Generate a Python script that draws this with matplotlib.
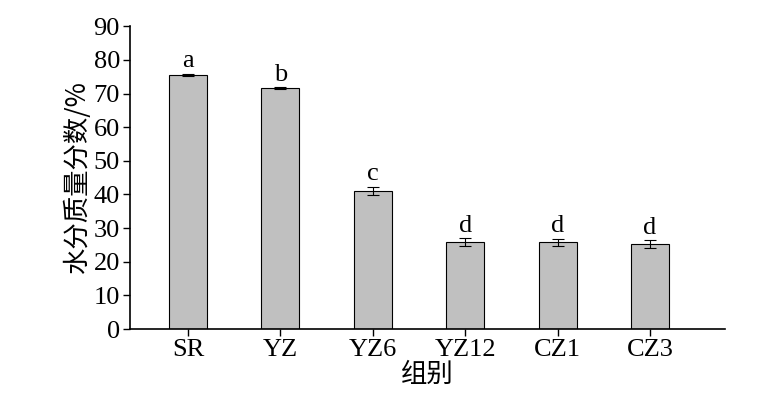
import matplotlib
matplotlib.use('Agg')
import matplotlib.pyplot as plt
import numpy as np

plt.rcParams['font.family'] = ['Liberation Serif', 'Noto Sans CJK SC']

groups = ['SR', 'YZ', 'YZ6', 'YZ12', 'CZ1', 'CZ3']
moisture = [75.5, 71.5, 41.0, 25.8, 25.8, 25.2]
errors = [0.3, 0.3, 1.3, 1.2, 1.0, 1.2]
letters = ['a', 'b', 'c', 'd', 'd', 'd']

fig = plt.figure(figsize=(7.72, 4.16), dpi=100)
ax = fig.add_axes([0.168, 0.209, 0.771, 0.728])

x = np.arange(len(groups))
ax.bar(x, moisture, width=0.41, color='#c0c0c0', edgecolor='black', linewidth=0.8,
       yerr=errors, capsize=4, error_kw=dict(elinewidth=0.8, capthick=0.8))
for xi, v, e, t in zip(x, moisture, errors, letters):
    ax.text(xi, v + e + 0.5, t, ha='center', va='bottom', fontsize=19)

ax.set_xlim(-0.63, 5.81)
ax.set_ylim(0, 90)
ax.set_yticks(range(0, 91, 10))
ax.set_xticks(x)
ax.set_xticklabels(groups)
ax.tick_params(labelsize=19, direction='out', length=5, width=1, pad=2)
for s in ['top', 'right']:
    ax.spines[s].set_visible(False)
for s in ['left', 'bottom']:
    ax.spines[s].set_linewidth(1.2)

ax.set_ylabel('水分质量分数/%', fontsize=19, family=['Noto Sans CJK SC'], labelpad=2)
ax.set_xlabel('组别', fontsize=19, family=['Noto Sans CJK SC'], labelpad=0)

fig.savefig('out.png', dpi=100)
